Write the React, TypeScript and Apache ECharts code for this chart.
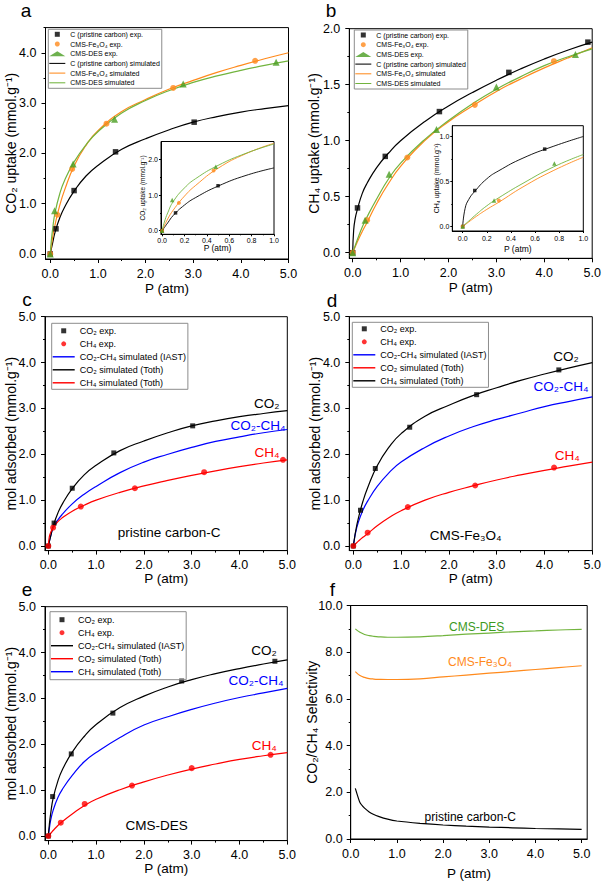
import React, { useEffect, useRef } from 'react';
import * as echarts from 'echarts';

const FONT = "'Liberation Sans', Arial, Helvetica, sans-serif";

// ---------- data ----------
const P_SIM = [0, 0.02, 0.05, 0.1, 0.2, 0.3, 0.5, 0.75, 1.0, 1.5, 2.0, 2.5, 3.0, 3.5, 4.0, 4.5, 5.0];
const C_CO2_SIM = [0, 0.09, 0.22, 0.43, 0.72, 0.93, 1.25, 1.55, 1.76, 2.08, 2.29, 2.47, 2.62, 2.73, 2.82, 2.89, 2.95];
const FE_CO2_SIM = [0, 0.14, 0.33, 0.58, 0.97, 1.27, 1.75, 2.16, 2.45, 2.83, 3.07, 3.28, 3.45, 3.61, 3.75, 3.88, 4.0];
const DES_CO2_SIM = [0, 0.24, 0.5, 0.82, 1.2, 1.46, 1.83, 2.17, 2.43, 2.8, 3.05, 3.25, 3.41, 3.54, 3.65, 3.75, 3.84];
const C_CH4_SIM = [0, 0.2, 0.3, 0.39, 0.53, 0.62, 0.76, 0.89, 1.0, 1.17, 1.31, 1.43, 1.54, 1.64, 1.73, 1.81, 1.88];
const FE_CH4_SIM = [0, 0.02, 0.05, 0.1, 0.19, 0.27, 0.44, 0.62, 0.77, 1.0, 1.17, 1.31, 1.44, 1.55, 1.65, 1.74, 1.83];
const DES_CH4_SIM = [0, 0.025, 0.06, 0.12, 0.23, 0.32, 0.48, 0.66, 0.8, 1.01, 1.18, 1.33, 1.46, 1.57, 1.67, 1.75, 1.82];
const C_IAST = [0, 0.1, 0.22, 0.4, 0.57, 0.7, 0.92, 1.13, 1.3, 1.6, 1.83, 2.0, 2.15, 2.28, 2.38, 2.47, 2.54];
const FE_IAST = [0, 0.13, 0.3, 0.5, 0.78, 0.98, 1.3, 1.6, 1.83, 2.15, 2.4, 2.6, 2.76, 2.9, 3.04, 3.15, 3.25];
const DES_IAST = [0, 0.16, 0.35, 0.56, 0.84, 1.03, 1.32, 1.62, 1.82, 2.15, 2.42, 2.6, 2.76, 2.9, 3.02, 3.12, 3.22];

const C_CO2_EXP_P = [0, 0.12, 0.5, 1.37, 3.02];
const C_CO2_EXP = [0, 0.5, 1.26, 2.03, 2.62];
const FE_CO2_EXP_P = [0, 0.15, 0.46, 1.18, 2.58, 4.3];
const FE_CO2_EXP = [0, 0.78, 1.69, 2.59, 3.3, 3.84];
const DES_CO2_EXP_P = [0, 0.09, 0.48, 1.35, 2.79, 4.74];
const DES_CO2_EXP = [0, 0.86, 1.79, 2.68, 3.38, 3.81];
const C_CH4_EXP_P = [0, 0.1, 0.68, 1.81, 3.26, 4.91];
const C_CH4_EXP = [0, 0.4, 0.86, 1.26, 1.61, 1.88];
const FE_CH4_EXP_P = [0, 0.3, 1.14, 2.55, 4.2];
const FE_CH4_EXP = [0, 0.29, 0.85, 1.32, 1.71];
const DES_CH4_EXP_P = [0, 0.26, 0.76, 1.75, 3.0, 4.65];
const DES_CH4_EXP = [0, 0.29, 0.7, 1.1, 1.48, 1.77];

const P_SEL = [0.1, 0.2, 0.3, 0.4, 0.5, 0.6, 0.8, 1.0, 1.5, 2.0, 2.5, 3.0, 3.5, 4.0, 4.5, 5.0];
const C_SEL = [2.17, 1.56, 1.32, 1.16, 1.05, 0.97, 0.85, 0.77, 0.67, 0.6, 0.55, 0.51, 0.48, 0.45, 0.43, 0.41];
const FE_SEL = [7.17, 7.0, 6.92, 6.87, 6.85, 6.84, 6.83, 6.83, 6.86, 6.94, 7.02, 7.1, 7.18, 7.26, 7.34, 7.42];
const DES_SEL = [9.0, 8.85, 8.76, 8.71, 8.68, 8.66, 8.64, 8.64, 8.66, 8.71, 8.77, 8.82, 8.87, 8.91, 8.95, 8.98];

// tick values
const X_MAJ = [0, 1, 2, 3, 4, 5];
const X_MIN = [0.5, 1.5, 2.5, 3.5, 4.5];
const YA_MAJ = [0, 1, 2, 3, 4];
const YA_MIN = [0.5, 1.5, 2.5, 3.5, 4.5];
const YB_MAJ = [0, 0.5, 1, 1.5, 2];
const YB_MIN = [0.25, 0.75, 1.25, 1.75];
const YC_MAJ = [0, 1, 2, 3, 4, 5];
const YC_MIN = [0.5, 1.5, 2.5, 3.5, 4.5];
const YF_MAJ = [0, 2, 4, 6, 8, 10];
const YF_MIN = [1, 3, 5, 7, 9];
const XI_MAJ = [0, 0.2, 0.4, 0.6, 0.8, 1.0];
const XI_MIN = [0.1, 0.3, 0.5, 0.7, 0.9];
const YIA_MAJ = [0, 1, 2];
const YIA_MIN = [0.5, 1.5];
const YIB_MAJ = [0, 0.5, 1.0];
const YIB_MIN = [0.25, 0.75];

// names
const N_C_EXP = 'C (pristine carbon) exp.';
const N_FE_EXP = 'CMS-Fe₃O₄ exp.';
const N_DES_EXP = 'CMS-DES exp.';
const N_C_SIM = 'C (pristine carbon) simulated';
const N_FE_SIM = 'CMS-Fe₃O₄ simulated';
const N_DES_SIM = 'CMS-DES simulated';
const N_CO2_EXP = 'CO₂ exp.';
const N_CH4_EXP = 'CH₄ exp.';
const N_IAST = 'CO₂-CH₄ simulated (IAST)';
const N_CO2_T = 'CO₂ simulated (Toth)';
const N_CH4_T = 'CH₄ simulated (Toth)';

// ---------- styling ----------
const BLACK = '#000000';
const ORANGE = '#FF8A1C';
const GREEN_M = '#4A9E22';
const GREEN_L = '#72B43E';
const RED = '#FF0000';
const BLUE = '#0000FF';
const LINE_ICON = 'path://M0,0H20V1.3H0Z';
const SQUARE_ICON = 'path://M0,0H10V10H0Z';

const zip = (xs: number[], ys: number[]) => xs.map((x, i) => [x, ys[i]]);
const upTo = (pts: number[][], lim: number) => pts.filter((p) => p[0] <= lim + 1e-9);

const GRIDS = [
  { left: 45.5, top: 27.6, width: 243, height: 231.4 },
  { left: 349.3, top: 28.7, width: 242.9, height: 229.6 },
  { left: 45, top: 316.7, width: 242.3, height: 233.9 },
  { left: 349.3, top: 316.7, width: 243, height: 233.9 },
  { left: 45, top: 606.7, width: 242.3, height: 233.9 },
  { left: 350.7, top: 605.5, width: 236.5, height: 233.5 },
  { left: 161, top: 141.5, width: 113, height: 92.8 },
  { left: 452.3, top: 125.7, width: 131, height: 105.3 },
];

type AxisSpec = {
  min: number; max: number; maj: number[]; mn: number[];
  fs: number; margin: number; tick: number; name: string; nameFs: number; nameGap: number;
};

const XS: AxisSpec[] = [
  { min: -0.1, max: 5, maj: X_MAJ, mn: X_MIN, fs: 12.5, margin: 8, tick: 4, name: 'P (atm)', nameFs: 13.5, nameGap: 22 },
  { min: -0.071, max: 5, maj: X_MAJ, mn: X_MIN, fs: 12.5, margin: 8, tick: 4, name: 'P (atm)', nameFs: 13.5, nameGap: 22 },
  { min: -0.07, max: 5, maj: X_MAJ, mn: X_MIN, fs: 12.5, margin: 8, tick: 4, name: 'P (atm)', nameFs: 13.5, nameGap: 21 },
  { min: -0.084, max: 5, maj: X_MAJ, mn: X_MIN, fs: 12.5, margin: 8, tick: 4, name: 'P (atm)', nameFs: 13.5, nameGap: 21 },
  { min: -0.07, max: 5, maj: X_MAJ, mn: X_MIN, fs: 12.5, margin: 8, tick: 4, name: 'P (atm)', nameFs: 13.5, nameGap: 21 },
  { min: 0, max: 5.12, maj: X_MAJ, mn: X_MIN, fs: 12.5, margin: 8, tick: 4, name: 'P (atm)', nameFs: 13.5, nameGap: 27 },
  { min: -0.01, max: 1, maj: XI_MAJ, mn: XI_MIN, fs: 7, margin: 3, tick: 2, name: 'P (atm)', nameFs: 8.5, nameGap: 9 },
  { min: -0.086, max: 1, maj: XI_MAJ, mn: XI_MIN, fs: 7, margin: 4, tick: 2, name: 'P (atm)', nameFs: 8.5, nameGap: 13 },
];

const YS: AxisSpec[] = [
  { min: -0.1, max: 4.5, maj: YA_MAJ, mn: YA_MIN, fs: 12.5, margin: 9, tick: 4, name: 'CO₂ uptake (mmol.g⁻¹)', nameFs: 14, nameGap: 28 },
  { min: -0.05, max: 2, maj: YB_MAJ, mn: YB_MIN, fs: 12.5, margin: 9, tick: 4, name: 'CH₄ uptake (mmol.g⁻¹)', nameFs: 14, nameGap: 28 },
  { min: -0.1, max: 5, maj: YC_MAJ, mn: YC_MIN, fs: 12.5, margin: 9, tick: 4, name: 'mol adsorbed (mmol.g⁻¹)', nameFs: 14, nameGap: 27 },
  { min: -0.1, max: 5, maj: YC_MAJ, mn: YC_MIN, fs: 12.5, margin: 9, tick: 4, name: 'mol adsorbed (mmol.g⁻¹)', nameFs: 14, nameGap: 27 },
  { min: -0.1, max: 5, maj: YC_MAJ, mn: YC_MIN, fs: 12.5, margin: 9, tick: 4, name: 'mol adsorbed (mmol.g⁻¹)', nameFs: 14, nameGap: 27 },
  { min: 0, max: 10, maj: YF_MAJ, mn: YF_MIN, fs: 12.5, margin: 8, tick: 4, name: 'CO₂/CH₄ Selectivity', nameFs: 14, nameGap: 32 },
  { min: -0.1, max: 2.5, maj: YIA_MAJ, mn: YIA_MIN, fs: 7, margin: 3, tick: 2, name: 'CO₂ uptake (mmol.g⁻¹)', nameFs: 6.5, nameGap: 15 },
  { min: -0.05, max: 1.12, maj: YIB_MAJ, mn: YIB_MIN, fs: 7, margin: 3, tick: 2, name: 'CH₄ uptake (mmol.g⁻¹)', nameFs: 7, nameGap: 12 },
];

function mainAxis(s: AxisSpec, g: number, isX: boolean) {
  return {
    type: 'value', gridIndex: g, min: s.min, max: s.max,
    position: isX ? 'bottom' : 'left',
    axisLine: { show: true, onZero: false, lineStyle: { color: BLACK, width: 1 } },
    axisTick: { show: true, inside: false, length: s.tick, customValues: s.maj, lineStyle: { color: BLACK, width: 1 } },
    minorTick: { show: false },
    axisLabel: {
      show: true, customValues: s.maj, margin: s.margin, color: BLACK, fontSize: s.fs, fontFamily: FONT,
      formatter: (v: number) => v.toFixed(1),
    },
    splitLine: { show: false },
    name: s.name, nameLocation: 'middle', nameGap: s.nameGap, nameRotate: isX ? 0 : 90,
    nameMoveOverlap: false,
    nameTextStyle: { fontSize: s.nameFs, color: BLACK, fontFamily: FONT },
  };
}

function minorAxis(s: AxisSpec, g: number, isX: boolean) {
  return {
    type: 'value', gridIndex: g, min: s.min, max: s.max,
    position: isX ? 'bottom' : 'left',
    axisLine: { show: false, onZero: false },
    axisTick: { show: true, inside: false, length: s.tick / 2, customValues: s.mn, lineStyle: { color: BLACK, width: 1 } },
    axisLabel: { show: false },
    splitLine: { show: false },
  };
}

const line = (name: string, data: number[][], color: string, g: number, width = 1.2, smooth: number | boolean = 0.5) => ({
  type: 'line', name, data, xAxisIndex: g, yAxisIndex: g, symbol: 'none', showSymbol: false,
  smooth, lineStyle: { color, width }, itemStyle: { color }, z: 2, silent: true,
});
const scat = (name: string, data: number[][], color: string, symbol: string, size: number, g: number) => ({
  type: 'scatter', name, data, xAxisIndex: g, yAxisIndex: g, symbol, symbolSize: size,
  itemStyle: { color }, z: 3, silent: true,
});

const legendBase = {
  orient: 'vertical', selectedMode: false, borderColor: '#8c8c8c', borderWidth: 1,
  itemStyle: { borderWidth: 0 }, backgroundColor: 'transparent', symbolKeepAspect: true,
};
const legendA = (left: number, top: number) => ({
  ...legendBase, left, top, itemWidth: 16, itemHeight: 5, itemGap: 2.7, padding: [1.5, 2, 2, 1],
  textStyle: { color: BLACK, fontFamily: FONT, fontSize: 7, lineHeight: 7 },
  data: [
    { name: N_C_EXP, icon: SQUARE_ICON, itemStyle: { color: BLACK } },
    { name: N_FE_EXP, icon: 'circle', itemStyle: { color: ORANGE } },
    { name: N_DES_EXP, icon: 'triangle', itemStyle: { color: GREEN_M } },
    { name: N_C_SIM, icon: LINE_ICON, itemStyle: { color: BLACK } },
    { name: N_FE_SIM, icon: LINE_ICON, itemStyle: { color: ORANGE } },
    { name: N_DES_SIM, icon: LINE_ICON, itemStyle: { color: GREEN_L } },
  ],
});
const legendC = (left: number, top: number, pad: number[], c1: string, c2: string, c3: string) => ({
  ...legendBase, left, top, itemWidth: 22, itemHeight: 5, itemGap: 4, padding: pad,
  textStyle: { color: BLACK, fontFamily: FONT, fontSize: 9, lineHeight: 9 },
  data: [
    { name: N_CO2_EXP, icon: SQUARE_ICON, itemStyle: { color: BLACK } },
    { name: N_CH4_EXP, icon: 'circle', itemStyle: { color: RED } },
    { name: N_IAST, icon: LINE_ICON, itemStyle: { color: c1 } },
    { name: N_CO2_T, icon: LINE_ICON, itemStyle: { color: c2 } },
    { name: N_CH4_T, icon: LINE_ICON, itemStyle: { color: c3 } },
  ],
});

const txt = (text: string, x: number, y: number, fontSize: number, fill: string) => ({
  type: 'text', x, y, z: 100, silent: true,
  style: { text, fontSize, fill, fontFamily: FONT, align: 'center', verticalAlign: 'middle' },
});

function buildOption() {
  const simA = [zip(P_SIM, C_CO2_SIM), zip(P_SIM, FE_CO2_SIM), zip(P_SIM, DES_CO2_SIM)];
  const simB = [zip(P_SIM, C_CH4_SIM), zip(P_SIM, FE_CH4_SIM), zip(P_SIM, DES_CH4_SIM)];
  const expA = [zip(C_CO2_EXP_P, C_CO2_EXP), zip(FE_CO2_EXP_P, FE_CO2_EXP), zip(DES_CO2_EXP_P, DES_CO2_EXP)];
  const expB = [zip(C_CH4_EXP_P, C_CH4_EXP), zip(FE_CH4_EXP_P, FE_CH4_EXP), zip(DES_CH4_EXP_P, DES_CH4_EXP)];

  const series: any[] = [];
  const uptake = (sim: number[][][], exp: number[][][], g: number, gi: number) => {
    series.push(line(N_C_SIM, sim[0], BLACK, g));
    series.push(line(N_FE_SIM, sim[1], ORANGE, g));
    series.push(line(N_DES_SIM, sim[2], GREEN_L, g));
    series.push(scat(N_C_EXP, exp[0], BLACK, 'rect', 5.5, g));
    series.push(scat(N_FE_EXP, exp[1], ORANGE, 'circle', 6, g));
    series.push(scat(N_DES_EXP, exp[2], GREEN_M, 'triangle', 7, g));
    series.push(line(N_C_SIM, upTo(sim[0], 1), BLACK, gi, 0.9));
    series.push(line(N_FE_SIM, upTo(sim[1], 1), ORANGE, gi, 0.9));
    series.push(line(N_DES_SIM, upTo(sim[2], 1), GREEN_L, gi, 0.9));
    series.push(scat(N_C_EXP, upTo(exp[0], 1), BLACK, 'rect', 3.5, gi));
    series.push(scat(N_FE_EXP, upTo(exp[1], 1), ORANGE, 'circle', 4, gi));
    series.push(scat(N_DES_EXP, upTo(exp[2], 1), GREEN_M, 'triangle', 4.5, gi));
  };
  uptake(simA, expA, 0, 6);
  uptake(simB, expB, 1, 7);

  const iast = [C_IAST, FE_IAST, DES_IAST];
  [2, 3, 4].forEach((g, k) => {
    series.push(line(N_IAST, zip(P_SIM, iast[k]), BLUE, g));
    series.push(line(N_CO2_T, simA[k], BLACK, g));
    series.push(line(N_CH4_T, simB[k], RED, g));
    series.push(scat(N_CO2_EXP, expA[k], BLACK, 'rect', 5, g));
    series.push(scat(N_CH4_EXP, expB[k], RED, 'circle', 6, g));
  });

  series.push(line('CMS-DES selectivity', zip(P_SEL, DES_SEL), GREEN_L, 5, 1.2, 0.4));
  series.push(line('CMS-Fe₃O₄ selectivity', zip(P_SEL, FE_SEL), ORANGE, 5, 1.2, 0.4));
  series.push(line('pristine carbon-C selectivity', zip(P_SEL, C_SEL), BLACK, 5, 1.2, 0.15));

  const xAxis = [
    ...XS.map((s, g) => mainAxis(s, g, true)),
    ...XS.map((s, g) => minorAxis(s, g, true)),
  ];
  const yAxis = [
    ...YS.map((s, g) => mainAxis(s, g, false)),
    ...YS.map((s, g) => minorAxis(s, g, false)),
  ];

  const grid = GRIDS.map((r, i) => ({
    ...r, show: true, borderColor: BLACK, borderWidth: 1,
    backgroundColor: i >= 6 ? '#ffffff' : 'transparent',
    containLabel: false, outerBoundsMode: 'none',
  }));

  const graphicEls = [
    txt('a', 26, 10, 19, BLACK),
    txt('b', 331, 10, 19, BLACK),
    txt('c', 27, 299, 19, BLACK),
    txt('d', 332, 300, 19, BLACK),
    txt('e', 27, 589, 19, BLACK),
    txt('f', 332.5, 589, 19, BLACK),
    txt('CO₂', 266.7, 403, 13.5, BLACK),
    txt('CO₂-CH₄', 258, 425, 13.5, BLUE),
    txt('CH₄', 267, 452, 13.5, RED),
    txt('pristine carbon-C', 169.2, 532.3, 13.5, BLACK),
    txt('CO₂', 566, 356.7, 13.5, BLACK),
    txt('CO₂-CH₄', 561, 386.7, 13.5, BLUE),
    txt('CH₄', 567.3, 455, 13.5, RED),
    txt('CMS-Fe₃O₄', 465.7, 535, 13.5, BLACK),
    txt('CO₂', 264, 650, 13.5, BLACK),
    txt('CO₂-CH₄', 256, 680, 13.5, BLUE),
    txt('CH₄', 264.3, 745, 13.5, RED),
    txt('CMS-DES', 156.7, 825.7, 13.5, BLACK),
    txt('CMS-DES', 476.7, 626.7, 12, '#3C9A1E'),
    txt('CMS-Fe₃O₄', 480, 661.7, 12, ORANGE),
    txt('pristine carbon-C', 470.3, 816.7, 12, BLACK),
  ];

  return {
    animation: false,
    backgroundColor: '#ffffff',
    textStyle: { fontFamily: FONT },
    grid,
    xAxis,
    yAxis,
    legend: [
      legendA(48.3, 29.3),
      legendA(354.3, 30),
      legendC(51.7, 323.3, [3, 2, 2, 1], BLUE, BLACK, RED),
      legendC(352.3, 322.3, [2, 2, 2, 1], BLUE, RED, BLACK),
      legendC(50, 611.7, [3.5, 2, 3.5, 1], BLACK, RED, BLUE),
    ],
    series,
    graphic: { elements: graphicEls },
  };
}

export default function App() {
  const ref = useRef<HTMLDivElement>(null);
  useEffect(() => {
    document.body.style.margin = '0';
    if (!ref.current) return;
    const chart = echarts.init(ref.current, undefined, { renderer: 'svg', width: 602, height: 881 });
    chart.setOption(buildOption() as any);
    return () => chart.dispose();
  }, []);
  return (
    <div
      ref={ref}
      style={{ position: 'absolute', left: 0, top: 0, width: 602, height: 881, background: '#fff' }}
    />
  );
}
